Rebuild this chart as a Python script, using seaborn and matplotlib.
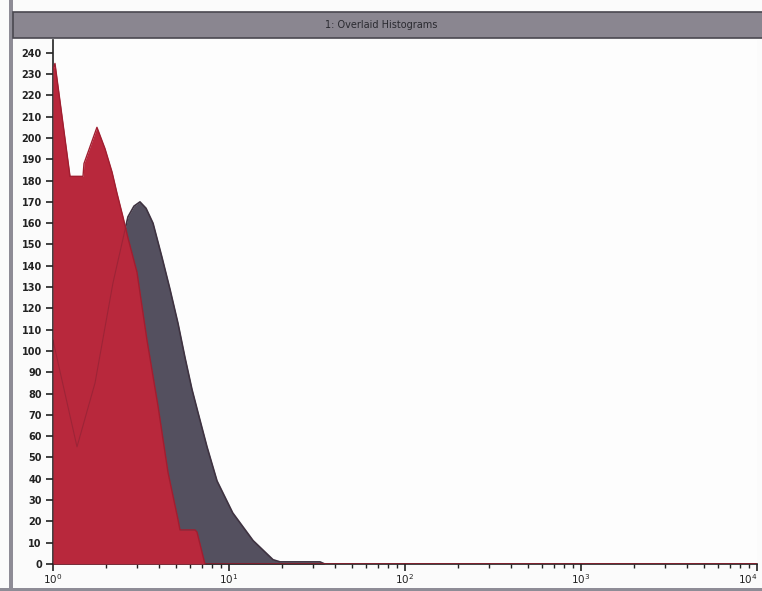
import matplotlib
matplotlib.use("Agg")
import matplotlib.pyplot as plt
from matplotlib.patches import Rectangle
from matplotlib.ticker import LogLocator, NullFormatter
import pandas as pd
import seaborn as sns

# Fluorescence channel (log scale) and event counts for the two overlaid histograms
red_fl = [1.0, 1.026, 1.249, 1.481, 1.50, 1.777, 1.974, 2.165, 2.311, 2.497, 2.668,
          3.0, 3.421, 3.953, 4.502, 5.127, 5.265, 6.41, 6.58, 7.30, 10000.0]
red_count = [232, 235, 182, 182, 188, 205, 195, 184, 174, 163, 153,
             137, 105, 74, 43, 21, 16, 16, 15, 0, 0]

gray_fl = [1.0, 1.369, 1.733, 2.192, 2.667, 2.885, 3.12, 3.377, 3.70, 4.16, 4.62,
           5.13, 5.62, 6.16, 6.67, 7.50, 8.55, 10.5, 13.7, 17.8, 19.5, 32.9, 35.0, 10000.0]
gray_count = [105, 55, 85, 132, 163, 168, 170, 167, 160, 144, 129,
              113, 97, 82, 71, 55, 39, 24, 11, 2, 1, 1, 0, 0]

y_ticks = list(range(0, 250, 10))
x_ticks = [1, 10, 100, 1000, 10000]
x_tick_labels = [r"$\mathregular{10^{0}}$", r"$\mathregular{10^{1}}$", r"$\mathregular{10^{2}}$",
                 r"$\mathregular{10^{3}}$", r"$\mathregular{10^{4}}$"]
x_limits = (1, 10000)
title = "1: Overlaid Histograms"

RED = "#b8283c"
GRAY = "#54505f"

sns.set_theme(style="white")
plt.rcParams["font.family"] = ["DejaVu Sans"]

fig = plt.figure(figsize=(7.62, 5.91), dpi=100, facecolor="#fbfbfb")
W, H = 762, 591

# window frame: left edge, title bar, bottom edge
fig.patches.append(Rectangle((9 / W, 0), 4 / W, 1, transform=fig.transFigure,
                             facecolor="#8e8c96", edgecolor="none", zorder=0))
fig.patches.append(Rectangle((13 / W, 1 - 38 / H), 1, 26 / H, transform=fig.transFigure,
                             facecolor="#8a8690", edgecolor="#4a4850", linewidth=1.2, zorder=0))
fig.patches.append(Rectangle((0, 0), 1, 3 / H, transform=fig.transFigure,
                             facecolor="#8e8c96", edgecolor="none", zorder=0))
fig.text(0.5, 1 - 25 / H, title, ha="center", va="center", fontsize=7,
         color="#2a2a30")

ax = fig.add_axes([53 / W, 1 - 564 / H, (757 - 53) / W, (564 - 40) / H])
ax.set_facecolor("#fdfdfd")

gray_df = pd.DataFrame({"fl": gray_fl, "count": gray_count})
red_df = pd.DataFrame({"fl": red_fl, "count": red_count})

ax.fill_between(gray_df["fl"], gray_df["count"], color=GRAY, linewidth=0, zorder=2)
sns.lineplot(data=gray_df, x="fl", y="count", ax=ax, color="#3e3a48", linewidth=1.2,
             estimator=None, sort=False, zorder=2.5)
ax.fill_between(red_df["fl"], red_df["count"], color=RED, linewidth=0, zorder=3)
# faint trace of the gray histogram where it lies beneath the red one
sns.lineplot(data=gray_df, x="fl", y="count", ax=ax, color="#4a1a28", linewidth=0.8,
             alpha=0.25, estimator=None, sort=False, zorder=4)
sns.lineplot(data=red_df, x="fl", y="count", ax=ax, color="#a01e30", linewidth=1.0,
             estimator=None, sort=False, zorder=5)

ax.set_xscale("log")
ax.set_xlim(*x_limits)
ax.set_ylim(0, 246)
ax.set_xlabel("")
ax.set_ylabel("")

ax.set_yticks(y_ticks)
ax.set_yticklabels([str(v) for v in y_ticks])
ax.set_xticks(x_ticks)
ax.set_xticklabels(x_tick_labels)
ax.xaxis.set_minor_locator(LogLocator(base=10, subs=range(2, 10), numticks=20))
ax.xaxis.set_minor_formatter(NullFormatter())

ax.tick_params(axis="y", which="major", direction="out", length=5, width=1.2,
               color="#222222", labelsize=7, labelcolor="#222222", pad=3, left=True)
ax.tick_params(axis="x", which="major", direction="out", length=5, width=1.2,
               color="#222222", labelsize=7.5, labelcolor="#222222", pad=1, bottom=True)
ax.tick_params(axis="x", which="minor", direction="out", length=3, width=1.0,
               color="#222222", bottom=True)
for lbl in ax.get_yticklabels():
    lbl.set_fontweight("bold")

# keep the last decade label inside the window edge
ax.xaxis.get_major_ticks()[-1].label1.set_horizontalalignment("right")

for side in ("top", "right"):
    ax.spines[side].set_visible(False)
for side in ("left", "bottom"):
    ax.spines[side].set_color("#222222")
    ax.spines[side].set_linewidth(1.2)

fig.savefig("out.png", dpi=100, facecolor=fig.get_facecolor())
